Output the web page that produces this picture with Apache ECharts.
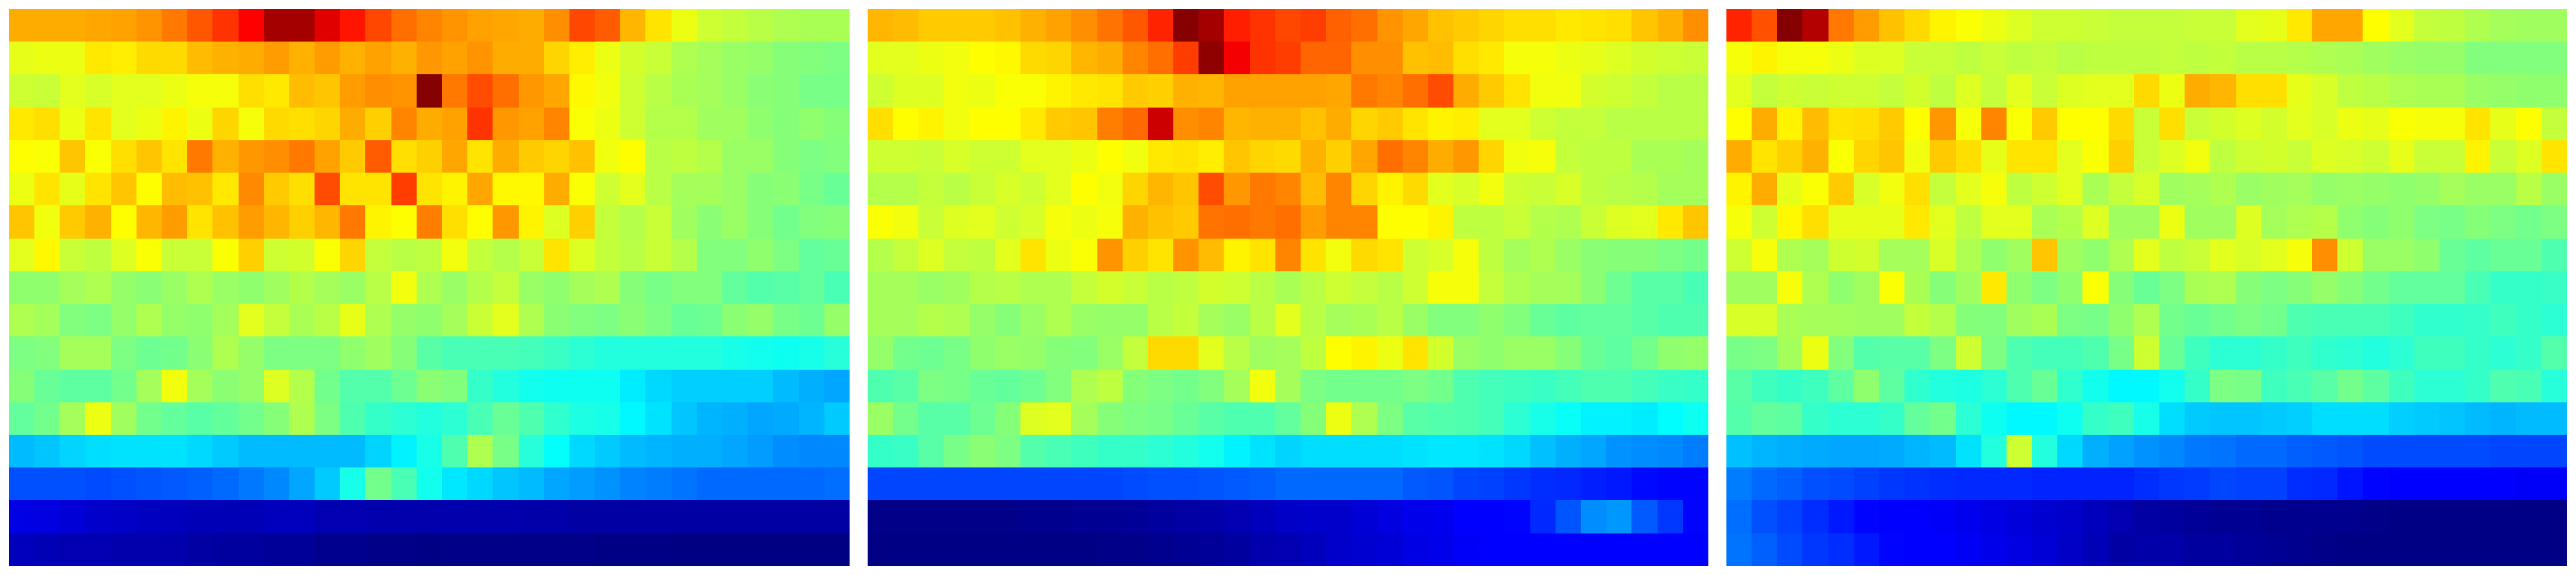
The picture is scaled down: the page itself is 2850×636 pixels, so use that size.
<!DOCTYPE html>
<html>
<head>
<meta charset="utf-8">
<style>html,body{margin:0;padding:0;background:#fff}#c{width:2850px;height:636px}</style>
<script src="https://cdn.jsdelivr.net/npm/echarts@6/dist/echarts.min.js"></script>
</head>
<body>
<div id="c"></div>
<script>
const columns = ['1','2','3','4','5','6','7','8','9','10','11','12','13','14','15','16','17','18','19','20','21','22','23','24','25','26','27','28','29','30','31','32','33'];
const rows = ['1','2','3','4','5','6','7','8','9','10','11','12','13','14','15','16','17'];

const panelA = [
[71,71,71,71.5,72,73.5,76,79.5,83,88,97,97,91,86,81,77,75, 73.5,72,71.5,71,74,81,79,70,65.5,61,58,57,56,55,54.5,54.5],
[60.5,61,61,65,64.5,66.5,66.5,69.5,70.5,71,72.5,70.5,72.5,70.5,72,70.5,73, 72,73.5,71,71,67,64.5,61,58.5,57.5,55,54,53,52.5,51,50.5,50],
[58,57.5,60,59,60,60,61,62,62,66,65,69.5,68.5,72.5,74,73.5,100, 76,80.5,77,73,71.5,63.5,61.5,58,56,54.5,54,53,51.5,51,49.5,49.5],
[65,66,61,65.5,60,61,64,61,67,62,66.5,66,67,71,67.5,75,71, 72,83,73,72,75,62.5,61,58,55.5,55.5,53.5,53.5,52,51,52,51],
[63,62.5,68.5,62.5,66,68.5,65.5,76,70.5,73,74,76,72,68,79,66,67.5, 71.5,65.5,71,68,67,69,61.5,63,56,56.5,55.5,53,53,51,50,50.5],
[61,65.5,60.5,65.5,68.5,63,69.5,69,65,74.5,68,66,80.5,65.5,65.5,82,65.5, 64,71.5,63.5,63.5,71,62.5,58,60,56,54,54,53,51,51.5,49.5,48],
[68.5,61.5,68,70.5,63,70,72.5,65.5,69,72.5,70,67.5,70,76,64,63,75.5, 66,63,73,64,59.5,67.5,57,55.5,57.5,53.5,51.5,53,51,49,50.5,51],
[60,63.5,57.5,56.5,59.5,62.5,57.5,57.5,62.5,67.5,58,58.5,62.5,67,57,56,56.5, 61.5,57,55.5,57.5,65.5,59.5,57,56,57.5,55.5,50.5,50.5,52,50,47.5,48],
[52,52,54,55,52.5,51.5,53,55,53,52,53.5,55.5,54,53,56,61.5,55, 53,55.5,57,53,52,54,55,51,49.5,50.5,50.5,47.5,46,46.5,47.5,45],
[55,54,50.5,50,52.5,55,52.5,52,54,60,57,54.5,56,60.5,55,52.5,52, 54,57.5,60,55,51.5,50.5,50,51.5,50,48,48.5,51.5,52.5,49.5,48.5,52.5],
[50,50.5,54,54,50,48.5,49,51.5,55,52.5,50,50,50,52,53.5,51,46.5, 45,45,45,44.5,43.5,42,41,41,41,41,41,40,39.5,39,40,41.5],
[51,48,47,47,49,54,61.5,54,51.5,52.5,59.5,55.5,49,46,46,48.5,51.5, 50.5,43,41,39.5,39,39,39,36,34,33,33,33,33,31,30,29],
[47.5,49,54,61,53.5,49,47.5,46.5,47.5,49,51,55,50,45.5,43,42,41, 42,45,48,45.5,42.5,40.5,40,37,35,32,30.5,30,29,29.5,30.5,32.5],
[31,32,33.5,34.5,35,35,35,34,32.5,31,31,31,31,31,33.5,36.5,40, 45.5,55,49.5,41.5,38,34,32.5,31,30.5,30,30,29,28,26.5,26,26],
[20.5,20.5,20.5,20,20.5,21,21.5,22,23,24.5,26,29,32.5,40,49,45,39.5, 35.5,34,32,31,29,28,27,25.5,25,24,23,23,23,23,23,23.5],
[10,9.5,8.5,7.5,7,6.5,6,5.5,5.5,5.5,6,6,5,5,4.5,4.5,4.5, 4.5,4.5,4.5,4,4,3.5,3.5,3.5,3.5,3.5,3.5,3.5,3.5,3.5,3.5,3.5],
[6,5.5,5,5,4.5,4.5,4.5,3.5,3,3,2.5,2.5,1.5,1.5,1,1,0.5, 1,1,1,1,1,1,0.5,0.5,0.5,0.3,0.3,0.3,0.3,0.3,0.3,0.3]
];

const panelB = [
[70,69.5,68,68,68,69,70.5,72,74,76.5,79.5,84.5,100,97,85,83,81, 82,78.5,77,73.5,71.5,69,68,67,66,66,65,65.5,66,68.5,70.5,74],
[60,60,61,61.5,63,63.5,66.5,67,70,71,75,77,82,99,89,83,82, 78,78,74,74,69,69.5,66,65,62,62,61,60.5,59.5,58.5,58,57.5],
[58,59.5,59.5,61.5,61,62.5,62.5,64,65,65.5,68,67.5,70.5,70,72,72,72, 72,71.5,76,75,77,80.5,71,68,65.5,61.5,61.5,58.5,58,57,56,56],
[66,63,64,61.5,63,63,65,68,68.5,75.5,77.5,93,74,75,70,70.5,70.5, 69,71,67,68,65.5,64,64.5,60,60,58,57,57,56,56,56,56],
[58,58,57.5,59,58,58,60,60,61,63,61.5,65,65.5,64.5,68.5,67,66.5, 70.5,67.5,71.5,77,75,71,73,67,61.5,62,57,56.5,56.5,54.5,54.5,54],
[55.5,55.5,57,56,57.5,59,58,60,63,61.5,67,70,68.5,80.5,73,76,75, 69.5,75,67,64,66.5,60,59,61.5,58,57.5,59,56.5,56,55.5,54,54],
[62.5,61.5,57.5,59.5,60,58,59,62,61,62,70.5,69,68,76.5,77,76,77, 72.5,75,75,63,63,64,56.5,56.5,57.5,55.5,55,57.5,59.5,60,65,68.5],
[55.5,57,59.5,57,56.5,60,65.5,61,62.5,73.5,67.5,65.5,73.5,69.5,64,65.5,75, 65.5,61.5,66.5,65.5,58,59,62,56.5,54,55,53,51.5,51,51,50,49],
[54,54,53,53.5,55.5,56,55,55,57,58.5,57.5,56,56.5,58.5,58,56,54.5, 56,58,57,56,58,62,62,57,55,54,54,51.5,48.5,46.5,46.5,45],
[54,54,55.5,55,52.5,51,53,55,53,52.5,52.5,56,57,54,53,56,60, 56,54,54.5,56,53,50.5,50.5,52,50.5,48,47,47.5,47.5,46.5,45.5,45.5],
[52.5,49,48.5,49.5,52,53,52.5,51,50.5,53,57,66.5,66.5,60,56,53.5,54, 56.5,63,64,61,65.5,58.5,53,52,53,53,51,48,47,49,52,52.5],
[45.5,46.5,50,49.5,48,47.5,48.5,50.5,55,56.5,51,50,49,50.5,54,61.5,54, 50,49,49,49,50,49,45.5,44.5,44,43.5,44.5,45.5,45.5,44.5,43.5,43],
[53,49,46.5,46.5,48.5,51,59.5,60,54,51,50,49.5,48,46.5,45.5,45.5,47.5, 51,61,55,50,46.5,46,45.5,44.5,42,40,38.5,36.5,36.5,36,37.5,39],
[43,43.5,46.5,49.5,51.5,50,46,45,44,43,43,42,41,39.5,36.5,35,33.5, 34.5,34.5,34.5,34.5,35,35.5,35.5,35,34,31.5,30,29,27,26.5,26,25],
[19.5,19.5,19.5,19.5,19.5,19.5,19.5,19.5,19.5,19.5,20,20.5,20.5,21,21.5,22,23, 23,23,23,23,21.5,21,19.5,19,18,17,16.5,15.5,15,13.5,13,13],
[1,1,1,1,1,1,1.5,1.5,2,2,2.5,3,3.5,4,5,6,7, 7.5,7.5,8.5,9.5,10.5,11,12.5,12.5,13,16.5,21,26.5,27.5,21.5,18,13],
[0.5,0.5,0.5,0.5,0.5,0.5,0.5,0.5,0.5,1,1,1.5,2,2.5,3,4.5,5, 6,7.5,8,8.5,10,10.5,12,12.5,12.5,12.5,12.5,12.5,12.5,12.5,12.5,12.5]
];

const panelC = [
[84.5,80,100,95.5,76,72.5,69,66.5,64,62.5,61,59.5,58,58,57.5,57,57, 57,57.5,57.5,60,60.5,65,71.5,71.5,63,60,57,56.5,55,54,53.5,53.5],
[62,64,62,62,61,59.5,59.5,57.5,57.5,56.5,57.5,56.5,57,56,56.5,56.5,56.5, 57,56.5,57,56,56,55.5,55,54.5,53.5,53,52.5,52.5,50.5,50.5,50.5,50.5],
[60,57,58,57.5,58,58,57,58.5,56.5,59.5,57,60,57.5,59.5,60,60,66.5, 61,71,70,66,66,60.5,59,56.5,56,55,54.5,54.5,53,52.5,52,52],
[63,71,64,69.5,65.5,66,68,63,73,62,75,62.5,68,63,63,66.5,57.5, 66,57.5,58.5,59.5,58.5,60,59,61,60.5,62.5,62,62,65.5,60.5,63,57],
[71,65.5,67.5,70.5,62.5,67,68.5,61.5,68,66,60.5,65.5,65.5,60,62.5,67.5,57.5, 59.5,61.5,56.5,58,58.5,57.5,59.5,59,58,60.5,57.5,57.5,64,57.5,59.5,65.5],
[64,71,60.5,62.5,68,59,61.5,66,57,60,62,56.5,58,60,54.5,57,59, 53.5,54,55,53,53.5,54,52.5,53,52.5,52,52.5,54,53,53,56,53],
[62,58,63.5,66,60.5,60.5,60.5,65,60,56.5,60,60,54.5,55.5,59.5,53.5,53.5, 61,53.5,53.5,59.5,54,55,55.5,52,51,52,50,49.5,51,50,49,50],
[58,62,55,54,58,58.5,54,54,59,55,52,53.5,68.5,53.5,52,55,60, 56.5,57.5,60,59,60,62,74,58,53,53,52,48,47,48,48,45.5],
[53.5,53.5,62,55,52,53.5,62.5,54.5,51,53.5,65,52,50,52,62.5,51,48, 50,54.5,55,51,50,51,52.5,51,49,47.5,47.5,47.5,45,43,43,43.5],
[59,59,54.5,54,54,53.5,53.5,57,55.5,51,50.5,53.5,54.5,50,49.5,52,55, 49,48,49,50,49,45.5,45,45,45,44,42.5,42.5,43,44,43,42],
[49.5,50,54,61,50.5,46,46.5,46.5,50,58,50,45.5,44.5,44.5,45.5,49.5,58, 48,44,42,42,43,44,42.5,42,41,42,44,44,43,42,43,46],
[46.5,44,43,44,47,52,47,42.5,41,40.5,42,45.5,48,42.5,39.5,37,37, 39.5,43,50,49.5,44,45,46.5,49,47,44,42,42,43,45.5,45,41.5],
[46,47.5,47,43,42,42,43,47.5,49,42,39,37,37,39,43,44,40, 34.5,32.5,32,32,32.5,33,34.5,34.5,34.5,33,32.5,32,31,30.5,31,31],
[31.5,30.5,30,29.5,29,29,29.5,30.5,31,35,41,58,41,34,30,28.5,27, 26,24.5,24,23,23,22,21.5,21,20,20,20,20,20,19.5,19.5,19.5],
[25,23,22,20.5,20,19,18,17.5,17,16.5,16.5,16.5,16,16,16,16,17, 18,18.5,19.5,19,19,17,16.5,14.5,13,12.5,12.5,12.5,12.5,12.5,12,12],
[23.5,20.5,19,17,15,13,12.5,12.5,12,11,10,9,8,7.5,6,5,3.5, 3,2.5,2,2,1.5,1.5,1.5,1.5,1,0.5,0.5,0.5,0.5,0.5,0.5,0.5],
[24,22,20,18,17,15,13,12.5,12.5,11.5,10.5,9.5,8.5,7,5.5,3.5,4, 4,3,3,2.5,2,1.5,1,0.5,0.5,0.5,0.5,0.5,0.5,0.5,0.5,0.5]
];

const jet = ['#00007f','#0000ff','#007fff','#00ffff','#7fff7f','#ffff00','#ff7f00','#ff0000','#7f0000'];
const panels = [panelA, panelB, panelC];
const lefts = [10, 960, 1910];

// Cells are snapped to whole pixels, as a nearest-neighbour image would be.
const snap = v => Math.round(v - 0.05);
function renderCell(params, api) {
  const c = api.coord([api.value(0), api.value(1)]);
  const s = api.size([1, 1]);
  const x0 = snap(c[0] - s[0] / 2), x1 = snap(c[0] + s[0] / 2);
  const y0 = snap(c[1] - s[1] / 2), y1 = snap(c[1] + s[1] / 2);
  return {
    type: 'rect',
    shape: {x: x0, y: y0, width: x1 - x0, height: y1 - y0},
    style: {fill: api.visual('color'), stroke: null, lineWidth: 0}
  };
}

const chart = echarts.init(document.getElementById('c'), null, {renderer: 'canvas', width: 2850, height: 636});
chart.setOption({
  animation: false,
  backgroundColor: '#ffffff',
  tooltip: {show: false},
  grid: lefts.map(l => ({left: l, top: 10, width: 930, height: 616, containLabel: false})),
  xAxis: panels.map((_, i) => ({type: 'category', gridIndex: i, data: columns, show: false})),
  yAxis: panels.map((_, i) => ({type: 'category', gridIndex: i, data: rows, inverse: true, show: false})),
  visualMap: {type: 'continuous', show: false, min: 0, max: 100.6, dimension: 2, seriesIndex: [0, 1, 2], inRange: {color: jet}},
  series: panels.map((p, i) => ({
    type: 'custom',
    xAxisIndex: i,
    yAxisIndex: i,
    silent: true,
    progressive: 0,
    renderItem: renderCell,
    encode: {x: 0, y: 1},
    data: p.flatMap((r, y) => r.map((v, x) => [x, y, v]))
  }))
});
</script>
</body>
</html>
